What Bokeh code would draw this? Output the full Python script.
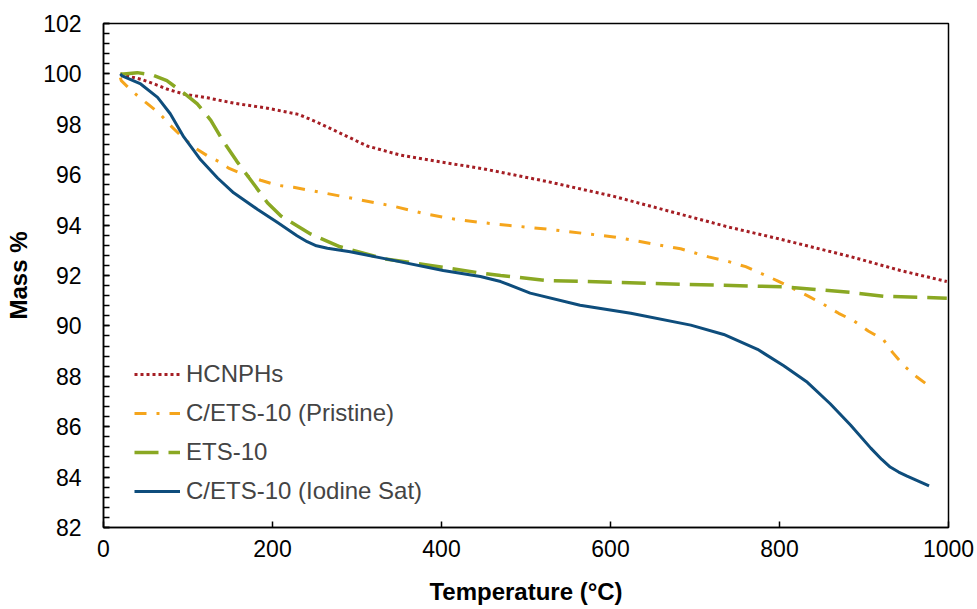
from bokeh.plotting import figure
from bokeh.models import Range1d, Legend, LegendItem, FixedTicker, SingleIntervalTicker
from bokeh.embed import file_html
from bokeh.resources import INLINE

# HCNPHs
t_hc = [20, 24, 44, 60, 75, 95, 123, 154, 194, 231, 253, 280, 312, 351, 391, 450, 525, 604, 683, 740,
        800, 884, 943, 998]
m_hc = [100.0, 99.95, 99.79, 99.6, 99.4, 99.2, 99.05, 98.84, 98.64, 98.39, 98.08, 97.65, 97.14, 96.78,
        96.55, 96.23, 95.73, 95.14, 94.43, 93.92, 93.45, 92.75, 92.2, 91.76]

# C/ETS-10 (Pristine)
t_pr = [20, 21, 34, 50, 66, 79, 93, 109, 123, 139, 148, 166, 186, 206, 225, 265, 304, 343, 383, 422, 464,
        525, 604, 683, 716, 740, 760, 797, 834, 852, 870, 888, 905, 923, 934, 947, 963, 979]
m_pr = [99.85, 99.73, 99.31, 98.87, 98.44, 97.96, 97.5, 97.05, 96.75, 96.48, 96.26, 96.0, 95.78, 95.58,
        95.5, 95.25, 95.0, 94.75, 94.43, 94.2, 94.04, 93.84, 93.53, 93.06, 92.74, 92.55, 92.35, 91.8,
        91.18, 90.86, 90.5, 90.2, 89.8, 89.45, 88.94, 88.43, 87.96, 87.57]

# ETS-10
t_et = [20, 24, 40, 58, 75, 99, 111, 127, 142, 158, 174, 194, 210, 229, 245, 280, 331, 387, 442, 470,
        525, 604, 722, 805, 884, 923, 998]
m_et = [100.0, 100.0, 100.05, 99.96, 99.73, 99.14, 98.81, 98.16, 97.31, 96.52, 95.8, 94.89, 94.36,
        93.97, 93.65, 93.14, 92.67, 92.4, 92.12, 92.0, 91.8, 91.73, 91.62, 91.55, 91.33, 91.18, 91.1]

# C/ETS-10 (Iodine Sat)
t_io = [20, 22, 44, 64, 79, 95, 115, 135, 154, 182, 206, 229, 241, 252, 265, 292, 343, 402, 446, 470,
        505, 564, 624, 695, 734, 774, 805, 833, 860, 884, 908, 921, 931, 941, 951, 977]
m_io = [100.0, 99.92, 99.6, 99.07, 98.42, 97.5, 96.59, 95.87, 95.28, 94.63, 94.1, 93.58, 93.34, 93.18,
        93.08, 92.94, 92.6, 92.2, 91.96, 91.76, 91.3, 90.82, 90.5, 90.03, 89.66, 89.07, 88.42, 87.76,
        86.91, 86.07, 85.15, 84.7, 84.4, 84.2, 84.04, 83.65]

x_ticks = [0, 200, 400, 600, 800, 1000]
labels = ["HCNPHs", "C/ETS-10 (Pristine)", "ETS-10", "C/ETS-10 (Iodine Sat)"]

FONT = "Liberation Sans"

p = figure(width=975, height=607, x_range=Range1d(0, 1000), y_range=Range1d(82, 102),
           output_backend="svg", toolbar_location=None,
           min_border_left=103, min_border_top=23, min_border_right=27, min_border_bottom=75)

p.xgrid.visible = False
p.ygrid.visible = False
p.outline_line_color = "black"
p.outline_line_width = 1.5

r1 = p.line(t_hc, m_hc, line_color="#A51E24", line_width=3, line_dash="3 3")
r2 = p.line(t_pr, m_pr, line_color="#F5A51C", line_width=3, line_dash="12 10 3 10")
r3 = p.line(t_et, m_et, line_color="#8AA823", line_width=3.5, line_dash="24 10")
r4 = p.line(t_io, m_io, line_color="#0E4D7C", line_width=3, line_join="round")

p.xaxis.ticker = FixedTicker(ticks=x_ticks)
p.yaxis.ticker = SingleIntervalTicker(interval=2, num_minor_ticks=5)

for ax in (p.xaxis[0], p.yaxis[0]):
    ax.axis_line_width = 1.5
    ax.axis_line_color = "black"
    ax.major_tick_in = 6
    ax.major_tick_out = 0
    ax.minor_tick_in = 6
    ax.minor_tick_out = 0
    ax.major_tick_line_width = 1.5
    ax.minor_tick_line_width = 1.5
    ax.major_label_text_font = FONT
    ax.major_label_text_font_size = "23px"
    ax.major_label_text_color = "black"
    ax.axis_label_text_font = FONT
    ax.axis_label_text_font_style = "bold"
    ax.axis_label_text_font_size = "24px"
    ax.axis_label_text_color = "black"

p.xaxis.minor_tick_line_color = None
p.xaxis.axis_label = "Temperature (°C)"
p.yaxis.axis_label = "Mass %"
p.xaxis.major_label_standoff = 12
p.xaxis.axis_label_standoff = 18
p.yaxis.major_label_standoff = 22
p.yaxis.axis_label_standoff = 8

legend = Legend(items=[LegendItem(label=labels[0], renderers=[r1]),
                       LegendItem(label=labels[1], renderers=[r2]),
                       LegendItem(label=labels[2], renderers=[r3]),
                       LegendItem(label=labels[3], renderers=[r4])],
                location=(31, 21), border_line_color=None, background_fill_alpha=0,
                padding=0, margin=0, spacing=9, glyph_width=46, glyph_height=30, label_height=30,
                label_text_font=FONT, label_text_font_size="24px", label_standoff=6)
p.add_layout(legend)

open("out.html", "w").write(file_html(p, INLINE))
